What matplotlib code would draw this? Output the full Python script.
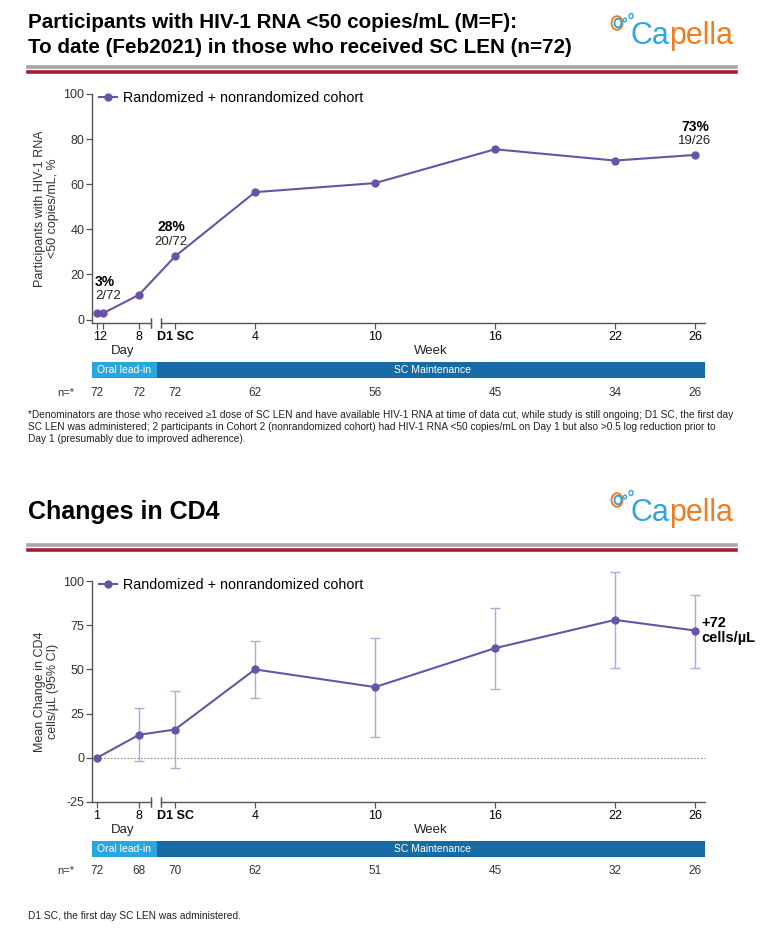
import matplotlib
matplotlib.use('Agg')
import matplotlib.pyplot as plt
from matplotlib.transforms import blended_transform_factory
from matplotlib.patches import Rectangle, Circle

plt.rcParams['font.family'] = ['Liberation Sans', 'DejaVu Sans']
plt.rcParams['axes.unicode_minus'] = False

# ---------------- data ----------------
# visits: (kind, value)  kind 'd' = day of oral lead-in, 'w' = week after D1 SC
rna_visits = [('d', 1), ('d', 2), ('d', 8), ('w', 0), ('w', 4), ('w', 10), ('w', 16), ('w', 22), ('w', 26)]
rna_ticklabels = ['1', '2', '8', 'D1 SC', '4', '10', '16', '22', '26']
rna_pct = [2.8, 2.8, 11, 28, 56.5, 60.5, 75.5, 70.5, 73]
rna_n = ['72', '72', '72', '62', '56', '45', '34', '26']
rna_n_visits = [('d', 1), ('d', 8), ('w', 0), ('w', 4), ('w', 10), ('w', 16), ('w', 22), ('w', 26)]

cd4_visits = [('d', 1), ('d', 8), ('w', 0), ('w', 4), ('w', 10), ('w', 16), ('w', 22), ('w', 26)]
cd4_ticklabels = ['1', '8', 'D1 SC', '4', '10', '16', '22', '26']
cd4_mean = [0, 13, 16, 50, 40, 62, 78, 72]
cd4_lo = [0, -2, -6, 34, 12, 39, 51, 51]
cd4_hi = [0, 28, 38, 66, 68, 85, 105, 92]
cd4_n = ['72', '68', '70', '62', '51', '45', '32', '26']

W, H = 768, 949
PURPLE = '#6953a6'
ERR = '#b3a8da'
LIGHTBLUE = '#2aa6df'
DARKBLUE = '#176ba5'
XMIN, XMAX = -4.15, 26.5
BREAK = (-1.2, -0.7)


def xpos(v):
    kind, val = v
    if kind == 'd':
        return -3.9 + 0.3 * (val - 1)
    return val


def fx(px):
    return px / W


def fy(py):
    return 1 - py / H


fig = plt.figure(figsize=(W / 100, H / 100), dpi=100)


def header(y_text, lines, y_rule, size, spacing=1.3):
    fig.text(fx(28), fy(y_text), lines, fontsize=size, fontweight='bold',
             va='center', ha='left', linespacing=spacing, color='black')
    fig.add_artist(plt.Line2D([fx(28), fx(736)], [fy(y_rule), fy(y_rule)],
                              color='#a6a6a6', lw=2.6))
    fig.add_artist(plt.Line2D([fx(28), fx(736)], [fy(y_rule + 5), fy(y_rule + 5)],
                              color='#a51d36', lw=2.6))


def logo(y):
    fig.text(fx(630), fy(y), 'Ca', fontsize=22, color='#2ea6df',
             va='baseline', ha='left')
    fig.text(fx(669), fy(y), 'pella', fontsize=22, color='#ef7d22',
             va='baseline', ha='left')
    fig.add_artist(Circle((fx(617), fy(y - 21)), 5.5 / W, transform=fig.transFigure,
                          fill=False, ec='#ef7d22', lw=1.4))
    fig.add_artist(Circle((fx(618), fy(y - 21)), 3.5 / W, transform=fig.transFigure,
                          fill=False, ec='#2ea6df', lw=1.4))
    fig.add_artist(Circle((fx(625), fy(y - 24)), 1.5 / W, transform=fig.transFigure,
                          fill=False, ec='#2ea6df', lw=1.0))
    fig.add_artist(Circle((fx(631), fy(y - 28)), 2.0 / W, transform=fig.transFigure,
                          fill=False, ec='#2ea6df', lw=1.0))


def chart(top, bottom, ylim, yticks, visits, ticklabels, ylabel):
    ax = fig.add_axes([fx(92), fy(bottom), fx(705) - fx(92), fy(top) - fy(bottom)])
    ax.set_xlim(XMIN, XMAX)
    ax.set_ylim(*ylim)
    for s in ['top', 'right', 'bottom']:
        ax.spines[s].set_visible(False)
    ax.spines['left'].set_color('#555555')
    ax.spines['left'].set_linewidth(1.0)
    y0 = ylim[0]
    ax.plot([XMIN, BREAK[0]], [y0, y0], color='#555555', lw=1.0, clip_on=False)
    ax.plot([BREAK[1], XMAX], [y0, y0], color='#555555', lw=1.0, clip_on=False)
    xs = [xpos(v) for v in visits]
    ax.set_xticks(xs)
    ax.set_xticklabels(ticklabels)
    for lab in ax.get_xticklabels():
        if lab.get_text() == 'D1 SC':
            lab.set_fontweight('bold')
    ax.set_yticks(yticks)
    ax.tick_params(axis='both', labelsize=9, colors='#333333', length=4, width=0.9,
                   color='#555555')
    ax.tick_params(axis='y', pad=1.5)
    ax.tick_params(axis='x', labelsize=9, pad=2)
    for lab in ax.get_xticklabels():
        lab.set_color('black')
    # break marks
    for b in BREAK:
        ax.plot([b, b], [y0, y0], marker='|', ms=7, color='#555555', clip_on=False, mew=0.9)
    ax.set_ylabel(ylabel, fontsize=9, color='#333333', labelpad=3, linespacing=1.15)

    tr = blended_transform_factory(ax.transData, fig.transFigure)
    return ax, xs, tr


def phase_row(ax, tr, y_lbl, y_bar, y_n, n_visits, n_vals):
    ax.text(-2.6, fy(y_lbl), 'Day', transform=tr, fontsize=9.5, ha='center', va='center', color='#222222')
    ax.text(12.8, fy(y_lbl), 'Week', transform=tr, fontsize=9.5, ha='center', va='center', color='#222222')
    bh = 16 / H
    fig.add_artist(Rectangle((fx(92), fy(y_bar) - bh / 2), fx(157) - fx(92), bh,
                             transform=fig.transFigure, color=LIGHTBLUE, lw=0))
    fig.add_artist(Rectangle((fx(157), fy(y_bar) - bh / 2), fx(705) - fx(157), bh,
                             transform=fig.transFigure, color=DARKBLUE, lw=0))
    fig.text(fx(124), fy(y_bar), 'Oral lead-in', fontsize=7.5, color='white', ha='center', va='center')
    fig.text(fx(432), fy(y_bar), 'SC Maintenance', fontsize=7.5, color='white', ha='center', va='center')
    fig.text(fx(74), fy(y_n), 'n=*', fontsize=8, color='#333333', ha='right', va='center')
    for v, n in zip(n_visits, n_vals):
        ax.text(xpos(v), fy(y_n), n, transform=tr, fontsize=8.5, ha='center', va='center', color='#333333')


def legend(ax):
    ax.legend(loc='upper left', frameon=False, fontsize=10.3, handlelength=1.25, handletextpad=0.45,
              borderaxespad=0.1, bbox_to_anchor=(0.0, 1.045))


# ---------------- top panel ----------------
header(35, 'Participants with HIV-1 RNA <50 copies/mL (M=F):\nTo date (Feb2021) in those who received SC LEN (n=72)', 67, 14.9, 1.38)
logo(44)

ax1, xs1, tr1 = chart(94, 323, (-1.5, 100), [0, 20, 40, 60, 80, 100], rna_visits, rna_ticklabels,
                      'Participants with HIV-1 RNA\n<50 copies/mL, %')
ax1.plot(xs1, rna_pct, color=PURPLE, lw=1.5, marker='o', ms=5, clip_on=False,
         label='Randomized + nonrandomized cohort')
legend(ax1)
ax1.text(xs1[0] - 0.1, rna_pct[0] + 14, '3%', fontsize=10, fontweight='bold', ha='left', va='center')
ax1.text(xs1[0] - 0.1, rna_pct[0] + 7.5, '2/72', fontsize=9.5, ha='left', va='center', color='#222222')
ax1.text(xs1[3] - 0.2, rna_pct[3] + 13, '28%', fontsize=10, fontweight='bold', ha='center', va='center')
ax1.text(xs1[3] - 0.2, rna_pct[3] + 6.5, '20/72', fontsize=9.5, ha='center', va='center', color='#222222')
ax1.text(xs1[8], rna_pct[8] + 12.5, '73%', fontsize=10, fontweight='bold', ha='center', va='center')
ax1.text(xs1[8], rna_pct[8] + 6, '19/26', fontsize=9.5, ha='center', va='center', color='#222222')
phase_row(ax1, tr1, 351, 370, 393, rna_n_visits, rna_n)

fig.text(fx(28), fy(427),
         '*Denominators are those who received \u22651 dose of SC LEN and have available HIV-1 RNA at time of data cut, while study is still ongoing; D1 SC, the first day\n'
         'SC LEN was administered; 2 participants in Cohort 2 (nonrandomized cohort) had HIV-1 RNA <50 copies/mL on Day 1 but also >0.5 log reduction prior to\n'
         'Day 1 (presumably due to improved adherence).',
         fontsize=7.3, ha='left', va='center', color='#222222', linespacing=1.25)

# ---------------- bottom panel ----------------
header(512, 'Changes in CD4', 545, 18)
logo(521)

ax2, xs2, tr2 = chart(581, 802, (-25, 100), [-25, 0, 25, 50, 75, 100], cd4_visits, cd4_ticklabels,
                      'Mean Change in CD4\ncells/\u00b5L (95% CI)')
ax2.axhline(0, xmin=(xs2[0] - XMIN) / (XMAX - XMIN), color='#888888', lw=0.8, ls=(0, (1.5, 1.5)))
yerr = [[m - lo for m, lo in zip(cd4_mean, cd4_lo)], [hi - m for m, hi in zip(cd4_mean, cd4_hi)]]
ax2.errorbar(xs2[1:], cd4_mean[1:], yerr=[yerr[0][1:], yerr[1][1:]], fmt='none', ecolor=ERR,
             elinewidth=1.0, capsize=3.5, capthick=1.0, clip_on=False)
ax2.plot(xs2, cd4_mean, color=PURPLE, lw=1.5, marker='o', ms=5, clip_on=False,
         label='Randomized + nonrandomized cohort')
legend(ax2)
ax2.text(xs2[-1] + 0.3, cd4_mean[-1], '+72\ncells/\u00b5L', fontsize=10.5, fontweight='bold',
         ha='left', va='center', linespacing=1.1, clip_on=False)
phase_row(ax2, tr2, 830, 849, 871, cd4_visits, cd4_n)

fig.text(fx(28), fy(916), 'D1 SC, the first day SC LEN was administered.', fontsize=7.3,
         ha='left', va='center', color='#222222')

fig.savefig('out.png', dpi=100)
